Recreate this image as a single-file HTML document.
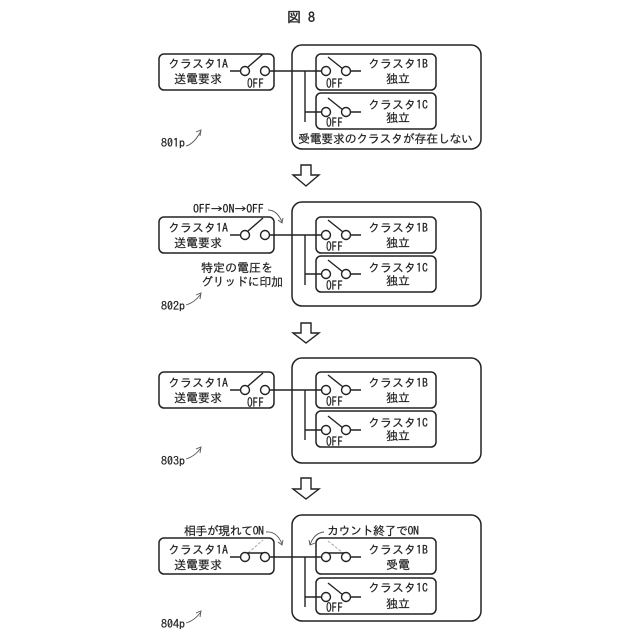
<!DOCTYPE html>
<html><head><meta charset="utf-8"><style>
html,body{margin:0;padding:0;background:#fff}
svg{display:block}
text{font-family:"IPAGothic","Noto Sans CJK JP",sans-serif;fill:#222;stroke:#222;stroke-width:.2;font-size:12px}
.o{font-size:13px}
.b{fill:none;stroke:#222;stroke-width:1.5}
.l{fill:none;stroke:#222;stroke-width:1.4}
.c{fill:#fff;stroke:#222;stroke-width:1.4}
.g{fill:none;stroke:#aaa;stroke-width:1;stroke-dasharray:3 1.5}
.t{fill:none;stroke:#555;stroke-width:.9}
</style></head><body>
<svg width="640" height="640" viewBox="0 0 640 640" xmlns="http://www.w3.org/2000/svg">
<text x="287" y="22" style="font-size:14px;stroke-width:.4">図 8</text>

<!-- Panel 1 -->
<rect class="b" x="292" y="45" width="189" height="104" rx="10"/>
<g transform="translate(0,54)">
<rect class="b" x="159" y="0" width="115" height="36" rx="5"/>
<rect class="b" x="316" y="0" width="120" height="36" rx="5"/>
<rect class="b" x="316" y="39" width="120" height="36" rx="5"/>
<path class="l" d="M230 17H240M270 17H321M305 17V68M305 58H321M351 17H361M351 58H361M248 13L263 0M328 3L343 15M328 44L343 56"/>
<circle class="c" cx="245" cy="17" r="4.5"/><circle class="c" cx="265" cy="17" r="4.5"/>
<circle class="c" cx="326" cy="17" r="4.5"/><circle class="c" cx="346" cy="17" r="4.5"/>
<circle class="c" cx="326" cy="58" r="4.5"/><circle class="c" cx="346" cy="58" r="4.5"/>
<text x="168" y="14">クラスタ1A</text><text x="174" y="29">送電要求</text>
<text class="o" x="247" y="34" textLength="17" lengthAdjust="spacingAndGlyphs">OFF</text>
<text x="368" y="14">クラスタ1B</text><text x="386" y="29">独立</text>
<text class="o" x="326" y="34" textLength="17" lengthAdjust="spacingAndGlyphs">OFF</text>
<text x="368" y="55">クラスタ1C</text><text x="386" y="68">独立</text>
<text class="o" x="326" y="73" textLength="17" lengthAdjust="spacingAndGlyphs">OFF</text>
</g>
<text x="298" y="143" textLength="175">受電要求のクラスタが存在しない</text>
<text x="161" y="147">801p</text>
<path class="t" d="M186 146Q194 144 201 131M196 132L201 130L200 136"/>
<path class="l" d="M301 165H311V175H319L306 186L293 175H301Z"/>

<!-- Panel 2 -->
<rect class="b" x="292" y="202" width="189" height="104" rx="10"/>
<g transform="translate(0,217)">
<rect class="b" x="159" y="0" width="115" height="36" rx="5"/>
<rect class="b" x="316" y="0" width="120" height="36" rx="5"/>
<rect class="b" x="316" y="39" width="120" height="36" rx="5"/>
<path class="l" d="M230 18H240M270 18H321M305 18V68M305 57H321M351 18H361M351 57H361M248 14L263 1M328 3L343 15M328 43L343 55"/>
<circle class="c" cx="245" cy="18" r="4.5"/><circle class="c" cx="265" cy="18" r="4.5"/>
<circle class="c" cx="326" cy="18" r="4.5"/><circle class="c" cx="346" cy="18" r="4.5"/>
<circle class="c" cx="326" cy="57" r="4.5"/><circle class="c" cx="346" cy="57" r="4.5"/>
<text x="168" y="15">クラスタ1A</text><text x="174" y="30">送電要求</text>
<text x="368" y="15">クラスタ1B</text><text x="386" y="30">独立</text>
<text class="o" x="326" y="34" textLength="17" lengthAdjust="spacingAndGlyphs">OFF</text>
<text x="368" y="55">クラスタ1C</text><text x="386" y="68">独立</text>
<text class="o" x="326" y="73" textLength="17" lengthAdjust="spacingAndGlyphs">OFF</text>
</g>
<text x="193" y="213" textLength="71">OFF→ON→OFF</text>
<path class="t" d="M268 210Q277 210 282 222M278 220L282 223L283 218"/>
<text x="201" y="272">特定の電圧を</text>
<text x="201" y="286" textLength="82">グリッドに印加</text>
<text x="161" y="310">802p</text>
<path class="t" d="M186 305Q194 303 201 294M196 295L201 293L200 299"/>
<path class="l" d="M301 323H311V333H319L306 343L293 333H301Z"/>

<!-- Panel 3 -->
<rect class="b" x="292" y="358" width="189" height="105" rx="10"/>
<g transform="translate(0,372)">
<rect class="b" x="159" y="0" width="115" height="36" rx="5"/>
<rect class="b" x="316" y="0" width="120" height="36" rx="5"/>
<rect class="b" x="316" y="39" width="120" height="36" rx="5"/>
<path class="l" d="M230 18H240M270 18H321M305 18V68M305 58H321M351 18H361M351 58H361M248 14L263 1M328 3L343 15M328 44L343 56"/>
<circle class="c" cx="245" cy="18" r="4.5"/><circle class="c" cx="265" cy="18" r="4.5"/>
<circle class="c" cx="326" cy="18" r="4.5"/><circle class="c" cx="346" cy="18" r="4.5"/>
<circle class="c" cx="326" cy="58" r="4.5"/><circle class="c" cx="346" cy="58" r="4.5"/>
<text x="168" y="15">クラスタ1A</text><text x="174" y="30">送電要求</text>
<text class="o" x="247" y="35" textLength="17" lengthAdjust="spacingAndGlyphs">OFF</text>
<text x="368" y="15">クラスタ1B</text><text x="386" y="30">独立</text>
<text class="o" x="326" y="34" textLength="17" lengthAdjust="spacingAndGlyphs">OFF</text>
<text x="368" y="55">クラスタ1C</text><text x="386" y="68">独立</text>
<text class="o" x="326" y="74" textLength="17" lengthAdjust="spacingAndGlyphs">OFF</text>
</g>
<text x="161" y="465">803p</text>
<path class="t" d="M186 459Q194 457 201 448M196 449L201 447L200 453"/>
<path class="l" d="M301 478H311V489H319L306 499L293 489H301Z"/>

<!-- Panel 4 -->
<rect class="b" x="292" y="515" width="189" height="106" rx="10"/>
<g transform="translate(0,538)">
<rect class="b" x="159" y="0" width="115" height="36" rx="5"/>
<rect class="b" x="316" y="0" width="120" height="36" rx="5"/>
<rect class="b" x="316" y="40" width="120" height="36" rx="5"/>
<path class="g" d="M248 15L263 2M328 3L343 15"/>
<path class="l" d="M230 19H240M270 19H321M305 19V69M305 59H321M351 19H361M351 59H361M247 15H266M327 15H346M328 45L343 57"/>
<circle class="c" cx="245" cy="19" r="4.5"/><circle class="c" cx="265" cy="19" r="4.5"/>
<circle class="c" cx="326" cy="19" r="4.5"/><circle class="c" cx="346" cy="19" r="4.5"/>
<circle class="c" cx="326" cy="59" r="4.5"/><circle class="c" cx="346" cy="59" r="4.5"/>
<text x="168" y="16">クラスタ1A</text><text x="174" y="31">送電要求</text>
<text x="368" y="16">クラスタ1B</text><text x="386" y="31">受電</text>
<text x="368" y="54">クラスタ1C</text><text x="386" y="70">独立</text>
<text class="o" x="326" y="74" textLength="17" lengthAdjust="spacingAndGlyphs">OFF</text>
</g>
<text x="184" y="535" textLength="80">相手が現れてON</text>
<path class="t" d="M266 532Q277 531 282 544M278 542L282 545L283 540"/>
<text x="327" y="535" textLength="92">カウント終了でON</text>
<path class="t" d="M324 532Q314 533 310 545M309 540L310 545L315 543"/>
<text x="161" y="628">804p</text>
<path class="t" d="M186 623Q194 621 201 612M196 613L201 611L200 617"/>
</svg>
</body></html>
